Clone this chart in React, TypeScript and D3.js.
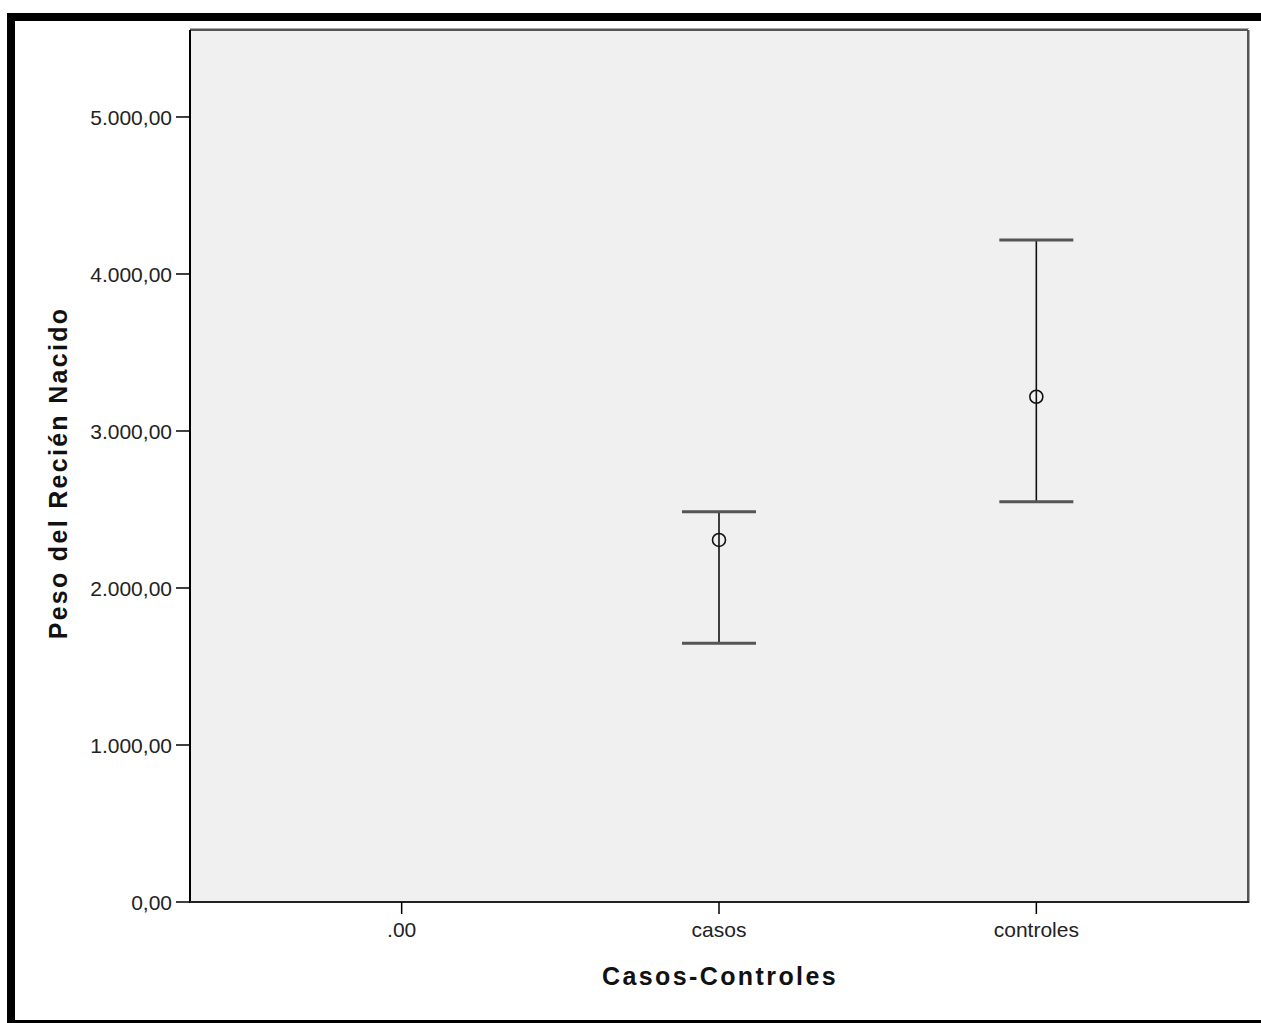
import React from 'react';
import * as d3 from 'd3';

// groups on the x axis
const categories = ['.00', 'casos', 'controles'];
// mean and interval ends per group (first group has no data)
const means = [null, 2306, 3218];
const lower = [null, 1648, 2550];
const upper = [null, 2486, 4217];
const yTicks = [0, 1000, 2000, 3000, 4000, 5000];
const yMax = 5554;

const W = 1261;
const H = 1023;
const plot = { left: 190, right: 1248, top: 30, bottom: 902 };

const esLocale = d3.formatLocale({ decimal: ',', thousands: '.', grouping: [3], currency: ['', ''] });
const fmt = esLocale.format(',.2f');

const font = '"Liberation Sans", Arial, sans-serif';

const ErrorBar = ({ x, y, lo, hi, mean }) => (
  <g>
    <line x1={x} x2={x} y1={y(hi)} y2={y(lo)} stroke="#111" strokeWidth={1.6} />
    <line x1={x - 37} x2={x + 37} y1={y(hi)} y2={y(hi)} stroke="#555" strokeWidth={3} />
    <line x1={x - 37} x2={x + 37} y1={y(lo)} y2={y(lo)} stroke="#555" strokeWidth={3} />
    <circle cx={x} cy={y(mean)} r={6.5} fill="none" stroke="#111" strokeWidth={1.6} />
  </g>
);

const App = () => {
  const x = d3.scalePoint().domain(categories).range([plot.left, plot.right]).padding(0.667);
  const y = d3.scaleLinear().domain([0, yMax]).range([plot.bottom, plot.top]);

  return (
    <svg width={W} height={H} style={{ position: 'absolute', left: 0, top: 0, display: 'block', background: '#fff' }}>
      {/* outer frame, clipped on the right */}
      <rect x={11} y={17} width={1300} height={1007} fill="none" stroke="#000" strokeWidth={8} />

      {/* plot area */}
      <rect x={plot.left} y={plot.top} width={plot.right - plot.left} height={plot.bottom - plot.top} fill="#f0f0f0" />
      <line x1={plot.left} x2={plot.right + 1} y1={plot.top - 1.5} y2={plot.top - 1.5} stroke="#aaa" strokeWidth={1} />
      <line x1={plot.left} x2={plot.right} y1={plot.top} y2={plot.top} stroke="#555" strokeWidth={2} />
      <line x1={plot.right + 1.5} x2={plot.right + 1.5} y1={plot.top} y2={plot.bottom + 1} stroke="#aaa" strokeWidth={1} />
      <line x1={plot.right} x2={plot.right} y1={plot.top} y2={plot.bottom} stroke="#555" strokeWidth={2} />
      <line x1={plot.left} x2={plot.left} y1={plot.top} y2={plot.bottom + 1} stroke="#000" strokeWidth={2} />
      <line x1={plot.left} x2={plot.right + 1} y1={plot.bottom} y2={plot.bottom} stroke="#222" strokeWidth={2} />

      {/* y axis */}
      {yTicks.map((t) => (
        <g key={t}>
          <line x1={176} x2={plot.left} y1={y(t)} y2={y(t)} stroke="#000" strokeWidth={1.5} />
          <text x={172} y={y(t)} dy="0.36em" textAnchor="end" fontFamily={font} fontSize={21} fill="#222">
            {fmt(t)}
          </text>
        </g>
      ))}

      {/* x axis */}
      {categories.map((c) => (
        <g key={c}>
          <line x1={x(c)} x2={x(c)} y1={plot.bottom} y2={914} stroke="#000" strokeWidth={1.5} />
          <text x={x(c)} y={937} textAnchor="middle" fontFamily={font} fontSize={21} fill="#222">
            {c}
          </text>
        </g>
      ))}

      {categories.map((c, i) =>
        means[i] == null ? null : (
          <ErrorBar key={c} x={x(c)} y={y} lo={lower[i]} hi={upper[i]} mean={means[i]} />
        )
      )}

      <text x={720} y={985} textAnchor="middle" fontFamily={font} fontSize={25} fontWeight="bold" letterSpacing={2.4} fill="#111">
        Casos-Controles
      </text>
      <text
        transform={`translate(67 ${(plot.top + plot.bottom) / 2 + 7}) rotate(-90)`}
        textAnchor="middle"
        fontFamily={font}
        fontSize={25}
        fontWeight="bold"
        letterSpacing={2.3}
        fill="#111"
      >
        Peso del Recién Nacido
      </text>
    </svg>
  );
};

export default App;
